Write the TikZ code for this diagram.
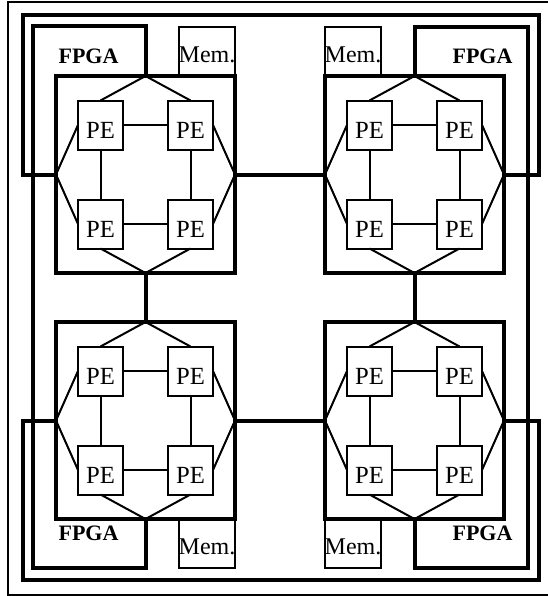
\documentclass[tikz,border=0pt]{standalone}
\usepackage{fontspec}
\setmainfont{Liberation Serif}
\tikzset{
  thickln/.style={line width=3pt, line join=miter},
  thinln/.style={line width=1.5pt},
  module/.style={draw, thickln, rectangle, minimum width=134.25pt, minimum height=147.75pt, inner sep=0pt, outer sep=0pt},
  pe/.style={draw, thinln, rectangle, minimum width=33.75pt, minimum height=36.75pt, inner sep=0pt, outer sep=0pt, font=\fontsize{18.5}{18.5}\selectfont, text height=20pt, text depth=0pt},
  mem/.style={draw, thinln, rectangle, minimum width=42pt, minimum height=36.75pt, inner sep=0pt, outer sep=0pt, font=\fontsize{18}{18}\selectfont, text height=16.5pt, text depth=0pt},
  fpga/.style={anchor=base, inner sep=0pt, font=\bfseries\fontsize{16.5}{16.5}\selectfont},
}
\begin{document}
\begin{tikzpicture}[x=0.75pt, y=-0.75pt]
\useasboundingbox (0,0) rectangle (547,596);
% outer frame
\draw[line width=1.5pt] (550,2) -- (7.5,2) -- (7.5,594.5) -- (550,594.5);

\foreach \n/\cx/\cy in {A/145.5/174.5, B/414.5/174.5, C/145.5/420.5, D/414.5/420.5}{
  \node[module] (\n) at (\cx,\cy) {};
  \node[pe] (\n1) at ({\cx-45},{\cy-49.5}) {PE};
  \node[pe] (\n2) at ({\cx+45},{\cy-49.5}) {PE};
  \node[pe] (\n3) at ({\cx-45},{\cy+49.5}) {PE};
  \node[pe] (\n4) at ({\cx+45},{\cy+49.5}) {PE};
  \draw[thinln] (\n1.east) -- (\n2.west);
  \draw[thinln] (\n3.east) -- (\n4.west);
  \draw[thinln] (\n1.south) -- (\n3.north);
  \draw[thinln] (\n2.south) -- (\n4.north);
  \draw[thinln] (\n1.north) -- (\n.north) -- (\n2.north);
  \draw[thinln] (\n1.west) -- (\n.west) -- (\n3.west);
  \draw[thinln] (\n3.south) -- (\n.south) -- (\n4.south);
  \draw[thinln] (\n2.east) -- (\n.east) -- (\n4.east);
}

% memories
\node[mem] (memA) at (207,51.5) {Mem.};
\node[mem] (memB) at (353,51.5) {Mem.};
\node[mem] (memC) at (207,543) {Mem.};
\node[mem] (memD) at (353,543) {Mem.};

% FPGA labels
\node[fpga] (fA) at (88.5,63) {FPGA};
\node[fpga] (fB) at (482.5,63) {FPGA};
\node[fpga] (fC) at (88.5,540) {FPGA};
\node[fpga] (fD) at (482.5,540) {FPGA};

% links between modules
\draw[thickln] (A.east) -- (B.west);
\draw[thickln] (C.east) -- (D.west);
\draw[thickln] (A.south) -- (C.north);
\draw[thickln] (B.south) -- (D.north);

% wrap-around corners
\coordinate (h1) at (22.5,15);
\coordinate (h2) at (538.5,15);
\coordinate (h3) at (22.5,579.5);
\coordinate (h4) at (538.5,579.5);
\coordinate (v1) at (32.5,26);
\coordinate (v2) at (32.5,567.5);
\coordinate (v3) at (528,26.5);
\coordinate (v4) at (528,567.5);

\draw[thickln] (A.west) -| (h1) -- (h2) |- (B.east);
\draw[thickln] (C.west) -| (h3) -- (h4) |- (D.east);
\draw[thickln] (A.north) |- (v1) -- (v2) -| (C.south);
\draw[thickln] (B.north) |- (v3) -- (v4) -| (D.south);
\end{tikzpicture}
\end{document}
